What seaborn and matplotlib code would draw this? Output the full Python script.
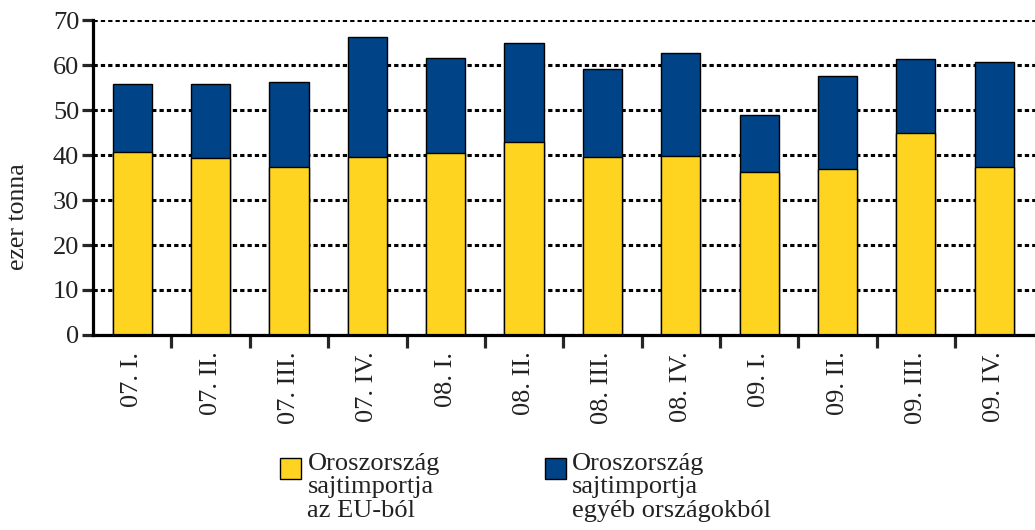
import pandas as pd
import numpy as np
import matplotlib
matplotlib.use('Agg')
import matplotlib.pyplot as plt
import seaborn as sns
from matplotlib.patches import Rectangle
from matplotlib.legend_handler import HandlerPatch

# Adatok (ezer tonna)
negyedevek = ['07. I.', '07. II.', '07. III.', '07. IV.', '08. I.', '08. II.',
              '08. III.', '08. IV.', '09. I.', '09. II.', '09. III.', '09. IV.']
eu_import = [40.7, 39.3, 37.4, 39.6, 40.4, 43.0, 39.6, 39.9, 36.3, 37.0, 44.8, 37.4]
egyeb_import = [15.1, 16.5, 18.8, 26.7, 21.2, 22.0, 19.5, 22.7, 12.5, 20.6, 16.6, 23.4]

cimke_eu = 'Oroszország\nsajtimportja\naz EU-ból'
cimke_egyeb = 'Oroszország\nsajtimportja\negyéb országokból'

sarga = '#FFD420'
kek = '#004387'
betu = 19

df = pd.DataFrame({'negyedev': negyedevek, 'eu': eu_import, 'egyeb': egyeb_import})
df['osszes'] = df['eu'] + df['egyeb']

sns.set_style('white')
plt.rcParams['font.family'] = ['Liberation Serif', 'DejaVu Serif']

fig = plt.figure(figsize=(10.35, 5.3), dpi=100)
ax = fig.add_axes([0.0899, 0.368, 0.9101, 0.594])

# Halmozott oszlopok: teljes (kék) alul, EU (sárga) rárajzolva
sns.barplot(data=df, x='negyedev', y='osszes', color=kek, saturation=1,
            width=0.5, edgecolor='black', linewidth=1, ax=ax, zorder=3)
sns.barplot(data=df, x='negyedev', y='eu', color=sarga, saturation=1,
            width=0.5, edgecolor='black', linewidth=1, ax=ax, zorder=3)

ax.set_ylim(0, 70)
ax.set_xlim(-0.5, 11.52)
ax.set_yticks(np.arange(0, 71, 10))
ax.yaxis.grid(True, color='black', linestyle=(0, (1.4, 1.0)), linewidth=2.2, zorder=1)
ax.xaxis.grid(False)
for s in ['top', 'right']:
    ax.spines[s].set_visible(False)
for s in ['left', 'bottom']:
    ax.spines[s].set_linewidth(2.3)
    ax.spines[s].set_color('black')
    ax.spines[s].set_zorder(4)

ax.tick_params(axis='y', direction='out', length=8, width=2.3, labelsize=betu,
               pad=2, left=True, labelcolor='#222222')
ax.set_xticks(np.arange(len(negyedevek)))
ax.set_xticklabels(negyedevek, rotation=90, fontsize=betu, color='#222222')
ax.tick_params(axis='x', which='major', length=0, pad=12)
ax.set_xticks(np.arange(0.5, len(negyedevek) - 0.5, 1), minor=True)
ax.tick_params(axis='x', which='minor', direction='out', length=9, width=2.3, bottom=True)
ax.set_xlabel('')
ax.set_ylabel('')
fig.text(0.017, 0.592, 'ezer tonna', rotation=90, fontsize=18.5, color='#222222',
         ha='center', va='center')


def felso_negyzet(legend, orig_handle, xdescent, ydescent, width, height, fontsize):
    a = fontsize * 0.8
    return Rectangle((-xdescent + width - a, -ydescent + height - a), a, a)


h_eu = Rectangle((0, 0), 1, 1, facecolor=sarga, edgecolor='black', linewidth=1)
h_egyeb = Rectangle((0, 0), 1, 1, facecolor=kek, edgecolor='black', linewidth=1)
leg = fig.legend([h_eu, h_egyeb], [cimke_eu, cimke_egyeb], ncol=2, frameon=False,
                 loc='upper left', bbox_to_anchor=(0.2575, 0.171), fontsize=betu,
                 handlelength=0.8, handleheight=3.1, handletextpad=0.25,
                 columnspacing=3.97, labelspacing=0, borderpad=0,
                 handler_map={Rectangle: HandlerPatch(patch_func=felso_negyzet)},
                 labelcolor='#222222')
for t in leg.get_texts():
    t.set_linespacing(1.1)

fig.savefig('out.png', dpi=100)
